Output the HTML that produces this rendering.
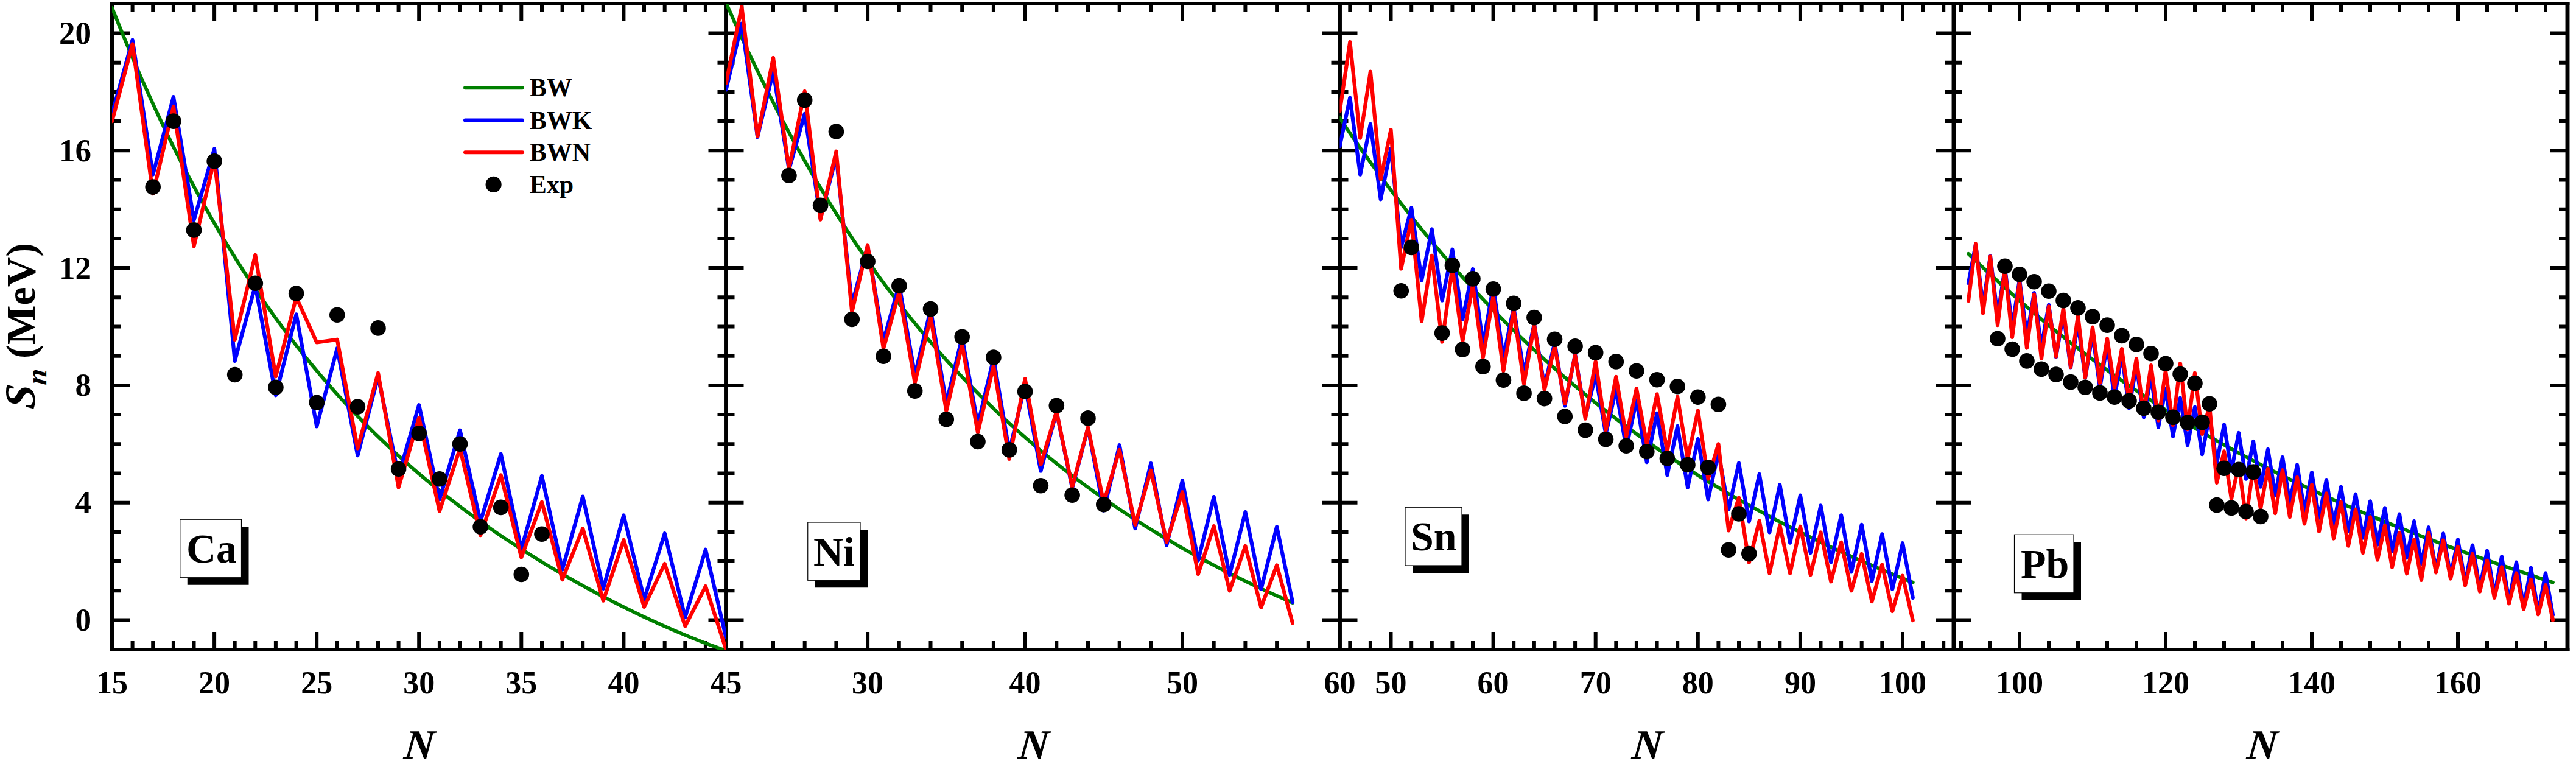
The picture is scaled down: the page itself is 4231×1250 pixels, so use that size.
<!DOCTYPE html><html><head><meta charset="utf-8"><title>Sn plot</title><style>html,body{margin:0;padding:0;background:#fff;width:4231px;height:1250px;overflow:hidden}svg{display:block}</style></head><body><svg width="4231" height="1250" viewBox="0 0 4231 1250">
<rect width="100%" height="100%" fill="#fff"/>
<defs>
<clipPath id="c0"><rect x="184.00" y="6.10" width="1008.50" height="1061.00"/></clipPath>
<clipPath id="c1"><rect x="1192.50" y="6.10" width="1008.00" height="1061.00"/></clipPath>
<clipPath id="c2"><rect x="2200.50" y="6.10" width="1008.50" height="1061.00"/></clipPath>
<clipPath id="c3"><rect x="3209.00" y="6.10" width="1008.00" height="1061.00"/></clipPath>
</defs>
<g stroke="#000" stroke-width="6" fill="none" stroke-linecap="butt">
<path d="M217.6 6.1v14M217.6 1067.1v-14M251.2 6.1v14M251.2 1067.1v-14M284.9 6.1v14M284.9 1067.1v-14M318.5 6.1v14M318.5 1067.1v-14M352.1 6.1v29M352.1 1067.1v-29M385.7 6.1v14M385.7 1067.1v-14M419.3 6.1v14M419.3 1067.1v-14M452.9 6.1v14M452.9 1067.1v-14M486.6 6.1v14M486.6 1067.1v-14M520.2 6.1v29M520.2 1067.1v-29M553.8 6.1v14M553.8 1067.1v-14M587.4 6.1v14M587.4 1067.1v-14M621.0 6.1v14M621.0 1067.1v-14M654.6 6.1v14M654.6 1067.1v-14M688.2 6.1v29M688.2 1067.1v-29M721.9 6.1v14M721.9 1067.1v-14M755.5 6.1v14M755.5 1067.1v-14M789.1 6.1v14M789.1 1067.1v-14M822.7 6.1v14M822.7 1067.1v-14M856.3 6.1v29M856.3 1067.1v-29M890.0 6.1v14M890.0 1067.1v-14M923.6 6.1v14M923.6 1067.1v-14M957.2 6.1v14M957.2 1067.1v-14M990.8 6.1v14M990.8 1067.1v-14M1024.4 6.1v29M1024.4 1067.1v-29M1058.0 6.1v14M1058.0 1067.1v-14M1091.7 6.1v14M1091.7 1067.1v-14M1125.3 6.1v14M1125.3 1067.1v-14M1158.9 6.1v14M1158.9 1067.1v-14M184.0 1018.5h29M1192.5 1018.5h-29M184.0 970.3h14M1192.5 970.3h-14M184.0 922.1h14M1192.5 922.1h-14M184.0 873.9h14M1192.5 873.9h-14M184.0 825.7h29M1192.5 825.7h-29M184.0 777.5h14M1192.5 777.5h-14M184.0 729.3h14M1192.5 729.3h-14M184.0 681.1h14M1192.5 681.1h-14M184.0 632.9h29M1192.5 632.9h-29M184.0 584.7h14M1192.5 584.7h-14M184.0 536.5h14M1192.5 536.5h-14M184.0 488.3h14M1192.5 488.3h-14M184.0 440.1h29M1192.5 440.1h-29M184.0 391.9h14M1192.5 391.9h-14M184.0 343.7h14M1192.5 343.7h-14M184.0 295.5h14M1192.5 295.5h-14M184.0 247.3h29M1192.5 247.3h-29M184.0 199.1h14M1192.5 199.1h-14M184.0 150.9h14M1192.5 150.9h-14M184.0 102.7h14M1192.5 102.7h-14M184.0 54.5h29M1192.5 54.5h-29"/>
<path d="M1218.3 6.1v14M1218.3 1067.1v-14M1270.0 6.1v14M1270.0 1067.1v-14M1321.7 6.1v14M1321.7 1067.1v-14M1373.4 6.1v14M1373.4 1067.1v-14M1425.1 6.1v29M1425.1 1067.1v-29M1476.8 6.1v14M1476.8 1067.1v-14M1528.5 6.1v14M1528.5 1067.1v-14M1580.2 6.1v14M1580.2 1067.1v-14M1631.9 6.1v14M1631.9 1067.1v-14M1683.6 6.1v29M1683.6 1067.1v-29M1735.3 6.1v14M1735.3 1067.1v-14M1787.0 6.1v14M1787.0 1067.1v-14M1838.7 6.1v14M1838.7 1067.1v-14M1890.3 6.1v14M1890.3 1067.1v-14M1942.0 6.1v29M1942.0 1067.1v-29M1993.7 6.1v14M1993.7 1067.1v-14M2045.4 6.1v14M2045.4 1067.1v-14M2097.1 6.1v14M2097.1 1067.1v-14M2148.8 6.1v14M2148.8 1067.1v-14M1192.5 1018.5h29M2200.5 1018.5h-29M1192.5 970.3h14M2200.5 970.3h-14M1192.5 922.1h14M2200.5 922.1h-14M1192.5 873.9h14M2200.5 873.9h-14M1192.5 825.7h29M2200.5 825.7h-29M1192.5 777.5h14M2200.5 777.5h-14M1192.5 729.3h14M2200.5 729.3h-14M1192.5 681.1h14M2200.5 681.1h-14M1192.5 632.9h29M2200.5 632.9h-29M1192.5 584.7h14M2200.5 584.7h-14M1192.5 536.5h14M2200.5 536.5h-14M1192.5 488.3h14M2200.5 488.3h-14M1192.5 440.1h29M2200.5 440.1h-29M1192.5 391.9h14M2200.5 391.9h-14M1192.5 343.7h14M2200.5 343.7h-14M1192.5 295.5h14M2200.5 295.5h-14M1192.5 247.3h29M2200.5 247.3h-29M1192.5 199.1h14M2200.5 199.1h-14M1192.5 150.9h14M2200.5 150.9h-14M1192.5 102.7h14M2200.5 102.7h-14M1192.5 54.5h29M2200.5 54.5h-29"/>
<path d="M2217.3 6.1v14M2217.3 1067.1v-14M2250.9 6.1v14M2250.9 1067.1v-14M2284.5 6.1v29M2284.5 1067.1v-29M2318.2 6.1v14M2318.2 1067.1v-14M2351.8 6.1v14M2351.8 1067.1v-14M2385.4 6.1v14M2385.4 1067.1v-14M2419.0 6.1v14M2419.0 1067.1v-14M2452.6 6.1v29M2452.6 1067.1v-29M2486.2 6.1v14M2486.2 1067.1v-14M2519.9 6.1v14M2519.9 1067.1v-14M2553.5 6.1v14M2553.5 1067.1v-14M2587.1 6.1v14M2587.1 1067.1v-14M2620.7 6.1v29M2620.7 1067.1v-29M2654.3 6.1v14M2654.3 1067.1v-14M2687.9 6.1v14M2687.9 1067.1v-14M2721.6 6.1v14M2721.6 1067.1v-14M2755.2 6.1v14M2755.2 1067.1v-14M2788.8 6.1v29M2788.8 1067.1v-29M2822.4 6.1v14M2822.4 1067.1v-14M2856.0 6.1v14M2856.0 1067.1v-14M2889.6 6.1v14M2889.6 1067.1v-14M2923.3 6.1v14M2923.3 1067.1v-14M2956.9 6.1v29M2956.9 1067.1v-29M2990.5 6.1v14M2990.5 1067.1v-14M3024.1 6.1v14M3024.1 1067.1v-14M3057.7 6.1v14M3057.7 1067.1v-14M3091.3 6.1v14M3091.3 1067.1v-14M3125.0 6.1v29M3125.0 1067.1v-29M3158.6 6.1v14M3158.6 1067.1v-14M3192.2 6.1v14M3192.2 1067.1v-14M2200.5 1018.5h29M3209.0 1018.5h-29M2200.5 970.3h14M3209.0 970.3h-14M2200.5 922.1h14M3209.0 922.1h-14M2200.5 873.9h14M3209.0 873.9h-14M2200.5 825.7h29M3209.0 825.7h-29M2200.5 777.5h14M3209.0 777.5h-14M2200.5 729.3h14M3209.0 729.3h-14M2200.5 681.1h14M3209.0 681.1h-14M2200.5 632.9h29M3209.0 632.9h-29M2200.5 584.7h14M3209.0 584.7h-14M2200.5 536.5h14M3209.0 536.5h-14M2200.5 488.3h14M3209.0 488.3h-14M2200.5 440.1h29M3209.0 440.1h-29M2200.5 391.9h14M3209.0 391.9h-14M2200.5 343.7h14M3209.0 343.7h-14M2200.5 295.5h14M3209.0 295.5h-14M2200.5 247.3h29M3209.0 247.3h-29M2200.5 199.1h14M3209.0 199.1h-14M2200.5 150.9h14M3209.0 150.9h-14M2200.5 102.7h14M3209.0 102.7h-14M2200.5 54.5h29M3209.0 54.5h-29"/>
<path d="M3221.0 6.1v14M3221.0 1067.1v-14M3269.0 6.1v14M3269.0 1067.1v-14M3317.0 6.1v29M3317.0 1067.1v-29M3365.0 6.1v14M3365.0 1067.1v-14M3413.0 6.1v14M3413.0 1067.1v-14M3461.0 6.1v14M3461.0 1067.1v-14M3509.0 6.1v14M3509.0 1067.1v-14M3557.0 6.1v29M3557.0 1067.1v-29M3605.0 6.1v14M3605.0 1067.1v-14M3653.0 6.1v14M3653.0 1067.1v-14M3701.0 6.1v14M3701.0 1067.1v-14M3749.0 6.1v14M3749.0 1067.1v-14M3797.0 6.1v29M3797.0 1067.1v-29M3845.0 6.1v14M3845.0 1067.1v-14M3893.0 6.1v14M3893.0 1067.1v-14M3941.0 6.1v14M3941.0 1067.1v-14M3989.0 6.1v14M3989.0 1067.1v-14M4037.0 6.1v29M4037.0 1067.1v-29M4085.0 6.1v14M4085.0 1067.1v-14M4133.0 6.1v14M4133.0 1067.1v-14M4181.0 6.1v14M4181.0 1067.1v-14M3209.0 1018.5h29M4217.0 1018.5h-29M3209.0 970.3h14M4217.0 970.3h-14M3209.0 922.1h14M4217.0 922.1h-14M3209.0 873.9h14M4217.0 873.9h-14M3209.0 825.7h29M4217.0 825.7h-29M3209.0 777.5h14M4217.0 777.5h-14M3209.0 729.3h14M4217.0 729.3h-14M3209.0 681.1h14M4217.0 681.1h-14M3209.0 632.9h29M4217.0 632.9h-29M3209.0 584.7h14M4217.0 584.7h-14M3209.0 536.5h14M4217.0 536.5h-14M3209.0 488.3h14M4217.0 488.3h-14M3209.0 440.1h29M4217.0 440.1h-29M3209.0 391.9h14M4217.0 391.9h-14M3209.0 343.7h14M4217.0 343.7h-14M3209.0 295.5h14M4217.0 295.5h-14M3209.0 247.3h29M4217.0 247.3h-29M3209.0 199.1h14M4217.0 199.1h-14M3209.0 150.9h14M4217.0 150.9h-14M3209.0 102.7h14M4217.0 102.7h-14M3209.0 54.5h29M4217.0 54.5h-29"/>
</g>
<g stroke="#000" fill="none" stroke-linecap="butt">
<path stroke-width="6" d="M180.55 6.1H4220.45M180.55 1067.1H4220.45"/>
<path stroke-width="6.9" d="M184.0 3.0999999999999996V1070.1M1192.5 3.0999999999999996V1070.1M2200.5 3.0999999999999996V1070.1M3209.0 3.0999999999999996V1070.1M4217.0 3.0999999999999996V1070.1"/>
</g>
<g clip-path="url(#c0)" fill="none" stroke-width="6.2" stroke-linejoin="round" stroke-linecap="round">
<polyline stroke="#008000" stroke-width="5.8" points="184.0,12.7 196.7,44.3 209.4,75.1 222.0,105.0 234.7,134.1 247.4,162.3 260.1,189.7 272.8,216.4 285.4,242.3 298.1,267.4 310.8,291.9 323.5,315.6 336.2,338.7 348.8,361.1 361.5,382.9 374.2,404.0 386.9,424.6 399.6,444.6 412.3,464.0 424.9,482.9 437.6,501.2 450.3,519.1 463.0,536.4 475.7,553.3 488.3,569.7 501.0,585.6 513.7,601.2 526.4,616.3 539.1,631.0 551.7,645.3 564.4,659.2 577.1,672.8 589.8,686.0 602.5,698.9 615.1,711.5 627.8,723.7 640.5,735.7 653.2,747.3 665.9,758.7 678.5,769.8 691.2,780.7 703.9,791.3 716.6,801.6 729.3,811.7 742.0,821.6 754.6,831.3 767.3,840.8 780.0,850.1 792.7,859.2 805.4,868.1 818.0,876.8 830.7,885.3 843.4,893.7 856.1,901.9 868.8,909.9 881.4,917.8 894.1,925.6 906.8,933.2 919.5,940.6 932.2,948.0 944.8,955.1 957.5,962.2 970.2,969.1 982.9,975.9 995.6,982.5 1008.2,989.0 1020.9,995.4 1033.6,1001.7 1046.3,1007.8 1059.0,1013.8 1071.7,1019.7 1084.3,1025.5 1097.0,1031.1 1109.7,1036.6 1122.4,1041.9 1135.1,1047.1 1147.7,1052.1 1160.4,1057.1 1173.1,1061.8 1185.8,1066.4"/>
<polyline stroke="#0000ff" points="184.0,187.0 217.6,65.6 251.2,286.8 284.9,159.1 318.5,361.5 352.1,244.4 385.7,592.9 419.3,469.0 452.9,649.3 486.6,516.3 520.2,700.4 553.8,572.2 587.4,748.1 621.0,618.4 654.6,781.8 688.2,665.2 721.9,820.4 755.5,706.6 789.1,857.0 822.7,745.7 856.3,901.9 890.0,781.8 923.6,935.6 957.2,815.6 990.8,966.9 1024.4,846.4 1058.0,984.3 1091.7,876.3 1125.3,1014.2 1158.9,902.8 1192.5,1047.4"/>
<polyline stroke="#ff0000" points="184.0,199.1 217.6,72.3 251.2,318.2 284.9,175.0 318.5,404.4 352.1,261.8 385.7,557.9 419.3,418.9 452.9,618.4 486.6,488.3 520.2,562.5 553.8,557.7 587.4,736.5 621.0,612.7 654.6,800.6 688.2,686.4 721.9,839.7 755.5,736.5 789.1,879.2 822.7,780.4 856.3,915.4 890.0,824.7 923.6,952.2 957.2,868.1 990.8,986.7 1024.4,886.9 1058.0,996.8 1091.7,926.0 1125.3,1028.6 1158.9,963.1 1192.5,1066.7"/>
</g>
<g fill="#000">
<circle cx="251.2" cy="307.1" r="12.8"/>
<circle cx="284.9" cy="199.1" r="12.8"/>
<circle cx="318.5" cy="377.9" r="12.8"/>
<circle cx="352.1" cy="264.7" r="12.8"/>
<circle cx="385.7" cy="615.5" r="12.8"/>
<circle cx="419.3" cy="465.2" r="12.8"/>
<circle cx="452.9" cy="636.3" r="12.8"/>
<circle cx="486.6" cy="482.0" r="12.8"/>
<circle cx="520.2" cy="661.3" r="12.8"/>
<circle cx="553.8" cy="517.2" r="12.8"/>
<circle cx="587.4" cy="668.1" r="12.8"/>
<circle cx="621.0" cy="538.9" r="12.8"/>
<circle cx="654.6" cy="770.3" r="12.8"/>
<circle cx="688.2" cy="711.9" r="12.8"/>
<circle cx="721.9" cy="786.7" r="12.8"/>
<circle cx="755.5" cy="729.3" r="12.8"/>
<circle cx="789.1" cy="865.2" r="12.8"/>
<circle cx="822.7" cy="833.4" r="12.8"/>
<circle cx="856.3" cy="943.5" r="12.8"/>
<circle cx="890.0" cy="877.3" r="12.8"/>
</g>
<g clip-path="url(#c1)" fill="none" stroke-width="6.2" stroke-linejoin="round" stroke-linecap="round">
<polyline stroke="#008000" stroke-width="5.8" points="1192.5,4.6 1204.3,31.1 1216.1,57.1 1227.8,82.4 1239.6,107.1 1251.4,131.3 1263.2,154.9 1274.9,177.9 1286.7,200.4 1298.5,222.4 1310.3,243.9 1322.1,264.8 1333.8,285.3 1345.6,305.3 1357.4,324.8 1369.2,343.9 1380.9,362.5 1392.7,380.7 1404.5,398.4 1416.3,415.7 1428.1,432.7 1439.8,449.2 1451.6,465.4 1463.4,481.1 1475.2,496.5 1486.9,511.6 1498.7,526.3 1510.5,540.7 1522.3,554.7 1534.1,568.4 1545.8,581.9 1557.6,595.0 1569.4,607.8 1581.2,620.3 1593.0,632.6 1604.7,644.5 1616.5,656.3 1628.3,667.7 1640.1,678.9 1651.8,689.9 1663.6,700.6 1675.4,711.1 1687.2,721.4 1699.0,731.5 1710.7,741.4 1722.5,751.0 1734.3,760.5 1746.1,769.8 1757.8,778.8 1769.6,787.7 1781.4,796.5 1793.2,805.0 1805.0,813.4 1816.7,821.7 1828.5,829.7 1840.3,837.6 1852.1,845.4 1863.8,853.0 1875.6,860.5 1887.4,867.9 1899.2,875.1 1911.0,882.2 1922.7,889.1 1934.5,896.0 1946.3,902.7 1958.1,909.3 1969.8,915.7 1981.6,922.1 1993.4,928.3 2005.2,934.5 2017.0,940.5 2028.7,946.4 2040.5,952.2 2052.3,957.9 2064.1,963.5 2075.8,969.0 2087.6,974.4 2099.4,979.7 2111.2,984.9 2123.0,990.0"/>
<polyline stroke="#0000ff" points="1192.5,147.5 1218.3,38.6 1244.2,225.1 1270.0,117.6 1295.9,278.6 1321.7,187.0 1347.6,358.2 1373.4,256.9 1399.3,499.9 1425.1,404.4 1451.0,560.1 1476.8,467.6 1502.7,616.0 1528.5,508.5 1554.3,662.3 1580.2,553.9 1606.0,698.0 1631.9,588.6 1657.7,741.3 1683.6,632.9 1709.4,773.6 1735.3,676.3 1761.1,801.6 1787.0,702.8 1812.8,838.7 1838.7,731.2 1864.5,868.1 1890.3,761.1 1916.2,895.6 1942.0,789.5 1967.9,920.7 1993.7,816.1 2019.6,944.3 2045.4,841.1 2071.3,967.9 2097.1,865.2 2123.0,989.1"/>
<polyline stroke="#ff0000" points="1192.5,136.4 1218.3,11.1 1244.2,224.2 1270.0,95.0 1295.9,276.7 1321.7,149.9 1347.6,360.6 1373.4,248.7 1399.3,512.4 1425.1,402.5 1451.0,572.6 1476.8,480.1 1502.7,628.6 1528.5,521.1 1554.3,674.8 1580.2,566.4 1606.0,710.5 1631.9,601.1 1657.7,753.9 1683.6,622.3 1709.4,763.0 1735.3,675.8 1761.1,799.7 1787.0,701.8 1812.8,825.7 1838.7,738.9 1864.5,861.9 1890.3,772.7 1916.2,890.3 1942.0,808.3 1967.9,943.0 1993.7,864.3 2019.6,970.3 2045.4,897.0 2071.3,997.8 2097.1,928.4 2123.0,1023.3"/>
</g>
<g fill="#000">
<circle cx="1295.9" cy="288.3" r="12.8"/>
<circle cx="1321.7" cy="164.4" r="12.8"/>
<circle cx="1347.6" cy="337.4" r="12.8"/>
<circle cx="1373.4" cy="216.0" r="12.8"/>
<circle cx="1399.3" cy="524.5" r="12.8"/>
<circle cx="1425.1" cy="429.5" r="12.8"/>
<circle cx="1451.0" cy="585.2" r="12.8"/>
<circle cx="1476.8" cy="469.5" r="12.8"/>
<circle cx="1502.7" cy="642.1" r="12.8"/>
<circle cx="1528.5" cy="507.6" r="12.8"/>
<circle cx="1554.3" cy="688.8" r="12.8"/>
<circle cx="1580.2" cy="553.4" r="12.8"/>
<circle cx="1606.0" cy="725.4" r="12.8"/>
<circle cx="1631.9" cy="587.1" r="12.8"/>
<circle cx="1657.7" cy="738.9" r="12.8"/>
<circle cx="1683.6" cy="643.0" r="12.8"/>
<circle cx="1709.4" cy="797.7" r="12.8"/>
<circle cx="1735.3" cy="666.2" r="12.8"/>
<circle cx="1761.1" cy="813.2" r="12.8"/>
<circle cx="1787.0" cy="686.9" r="12.8"/>
<circle cx="1812.8" cy="828.6" r="12.8"/>
</g>
<g clip-path="url(#c2)" fill="none" stroke-width="6.2" stroke-linejoin="round" stroke-linecap="round">
<polyline stroke="#008000" stroke-width="5.8" points="2200.5,193.8 2212.4,211.5 2224.3,228.9 2236.2,246.0 2248.2,262.8 2260.1,279.4 2272.0,295.6 2283.9,311.5 2295.8,327.2 2307.7,342.6 2319.6,357.7 2331.6,372.5 2343.5,387.1 2355.4,401.4 2367.3,415.5 2379.2,429.3 2391.1,442.8 2403.1,456.2 2415.0,469.3 2426.9,482.1 2438.8,494.7 2450.7,507.1 2462.6,519.3 2474.5,531.3 2486.5,543.0 2498.4,554.5 2510.3,565.9 2522.2,577.0 2534.1,587.9 2546.0,598.7 2557.9,609.2 2569.9,619.6 2581.8,629.7 2593.7,639.7 2605.6,649.5 2617.5,659.2 2629.4,668.6 2641.3,677.9 2653.3,687.1 2665.2,696.1 2677.1,704.9 2689.0,713.6 2700.9,722.1 2712.8,730.4 2724.7,738.7 2736.7,746.8 2748.6,754.7 2760.5,762.5 2772.4,770.2 2784.3,777.7 2796.2,785.2 2808.2,792.5 2820.1,799.6 2832.0,806.7 2843.9,813.7 2855.8,820.5 2867.7,827.2 2879.6,833.8 2891.6,840.3 2903.5,846.7 2915.4,853.1 2927.3,859.3 2939.2,865.4 2951.1,871.4 2963.0,877.3 2975.0,883.2 2986.9,888.9 2998.8,894.6 3010.7,900.2 3022.6,905.7 3034.5,911.1 3046.4,916.5 3058.4,921.8 3070.3,927.0 3082.2,932.1 3094.1,937.2 3106.0,942.2 3117.9,947.1 3129.9,952.0 3141.8,956.8"/>
<polyline stroke="#0000ff" points="2200.5,240.1 2217.3,160.5 2234.1,286.8 2250.9,203.9 2267.7,327.3 2284.5,243.9 2301.3,406.4 2318.2,341.3 2335.0,460.3 2351.8,376.5 2368.6,493.6 2385.4,409.7 2402.2,524.9 2419.0,442.0 2435.8,565.4 2452.6,470.9 2469.4,587.1 2486.2,504.7 2503.1,613.6 2519.9,531.7 2536.7,635.3 2553.5,563.0 2570.3,666.6 2587.1,582.3 2603.9,685.0 2620.7,616.0 2637.5,712.9 2654.3,639.6 2671.1,736.0 2687.9,657.5 2704.8,759.2 2721.6,678.7 2738.4,780.4 2755.2,699.9 2772.0,800.6 2788.8,721.1 2805.6,820.4 2822.4,742.8 2839.2,836.8 2856.0,760.6 2872.8,856.5 2889.6,778.9 2906.4,874.4 2923.3,796.3 2940.1,891.7 2956.9,813.6 2973.7,908.1 2990.5,830.5 3007.3,923.5 3024.1,846.4 3040.9,939.5 3057.7,861.9 3074.5,954.4 3091.3,877.3 3108.2,967.9 3125.0,892.2 3141.8,981.9"/>
<polyline stroke="#ff0000" points="2200.5,182.7 2217.3,69.0 2234.1,226.6 2250.9,117.6 2267.7,294.1 2284.5,213.1 2301.3,441.5 2318.2,361.1 2335.0,527.8 2351.8,419.9 2368.6,561.6 2385.4,440.1 2402.2,560.6 2419.0,468.5 2435.8,587.1 2452.6,486.4 2469.4,609.3 2486.2,509.5 2503.1,630.5 2519.9,533.6 2536.7,640.6 2553.5,568.8 2570.3,662.8 2587.1,583.7 2603.9,687.8 2620.7,593.9 2637.5,706.6 2654.3,618.9 2671.1,716.8 2687.9,638.2 2704.8,729.3 2721.6,647.4 2738.4,741.3 2755.2,651.7 2772.0,753.4 2788.8,674.4 2805.6,786.7 2822.4,729.3 2839.2,871.5 2856.0,817.5 2872.8,924.0 2889.6,855.6 2906.4,941.9 2923.3,862.8 2940.1,941.9 2956.9,864.7 2973.7,944.3 2990.5,874.4 3007.3,955.4 3024.1,890.8 3040.9,970.3 3057.7,910.0 3074.5,988.1 3091.3,927.4 3108.2,1004.0 3125.0,945.7 3141.8,1019.0"/>
</g>
<g fill="#000">
<circle cx="2301.3" cy="477.7" r="12.8"/>
<circle cx="2318.2" cy="406.4" r="12.8"/>
<circle cx="2368.6" cy="547.1" r="12.8"/>
<circle cx="2385.4" cy="435.8" r="12.8"/>
<circle cx="2402.2" cy="574.1" r="12.8"/>
<circle cx="2419.0" cy="457.9" r="12.8"/>
<circle cx="2435.8" cy="602.1" r="12.8"/>
<circle cx="2452.6" cy="474.8" r="12.8"/>
<circle cx="2469.4" cy="624.2" r="12.8"/>
<circle cx="2486.2" cy="498.4" r="12.8"/>
<circle cx="2503.1" cy="645.9" r="12.8"/>
<circle cx="2519.9" cy="521.6" r="12.8"/>
<circle cx="2536.7" cy="654.6" r="12.8"/>
<circle cx="2553.5" cy="557.2" r="12.8"/>
<circle cx="2570.3" cy="684.0" r="12.8"/>
<circle cx="2587.1" cy="568.8" r="12.8"/>
<circle cx="2603.9" cy="706.6" r="12.8"/>
<circle cx="2620.7" cy="579.4" r="12.8"/>
<circle cx="2637.5" cy="721.6" r="12.8"/>
<circle cx="2654.3" cy="593.9" r="12.8"/>
<circle cx="2671.1" cy="732.2" r="12.8"/>
<circle cx="2687.9" cy="609.3" r="12.8"/>
<circle cx="2704.8" cy="741.8" r="12.8"/>
<circle cx="2721.6" cy="623.7" r="12.8"/>
<circle cx="2738.4" cy="752.9" r="12.8"/>
<circle cx="2755.2" cy="634.8" r="12.8"/>
<circle cx="2772.0" cy="763.5" r="12.8"/>
<circle cx="2788.8" cy="652.2" r="12.8"/>
<circle cx="2805.6" cy="767.9" r="12.8"/>
<circle cx="2822.4" cy="664.2" r="12.8"/>
<circle cx="2839.2" cy="903.3" r="12.8"/>
<circle cx="2856.0" cy="844.0" r="12.8"/>
<circle cx="2872.8" cy="909.6" r="12.8"/>
</g>
<g clip-path="url(#c3)" fill="none" stroke-width="6.2" stroke-linejoin="round" stroke-linecap="round">
<polyline stroke="#008000" stroke-width="5.8" points="3233.0,416.8 3245.2,428.4 3257.3,439.9 3269.5,451.2 3281.6,462.3 3293.8,473.3 3305.9,484.1 3318.1,494.7 3330.2,505.2 3342.4,515.5 3354.5,525.7 3366.7,535.7 3378.8,545.5 3391.0,555.2 3403.1,564.7 3415.3,574.1 3427.4,583.3 3439.6,592.4 3451.7,601.4 3463.9,610.2 3476.0,618.9 3488.2,627.4 3500.3,635.8 3512.5,644.1 3524.6,652.2 3536.8,660.2 3548.9,668.1 3561.1,675.9 3573.3,683.5 3585.4,691.0 3597.6,698.4 3609.7,705.7 3621.9,712.9 3634.0,719.9 3646.2,726.8 3658.3,733.7 3670.5,740.4 3682.6,747.0 3694.8,753.5 3706.9,760.0 3719.1,766.3 3731.2,772.5 3743.4,778.6 3755.5,784.6 3767.7,790.6 3779.8,796.4 3792.0,802.2 3804.1,807.9 3816.3,813.5 3828.4,819.0 3840.6,824.4 3852.7,829.8 3864.9,835.1 3877.1,840.3 3889.2,845.4 3901.4,850.5 3913.5,855.5 3925.7,860.5 3937.8,865.3 3950.0,870.1 3962.1,874.9 3974.3,879.6 3986.4,884.2 3998.6,888.8 4010.7,893.4 4022.9,897.9 4035.0,902.3 4047.2,906.7 4059.3,911.1 4071.5,915.4 4083.6,919.7 4095.8,923.9 4107.9,928.1 4120.1,932.3 4132.2,936.4 4144.4,940.5 4156.5,944.6 4168.7,948.7 4180.8,952.7 4193.0,956.7"/>
<polyline stroke="#0000ff" points="3233.0,465.2 3245.0,401.5 3257.0,502.8 3269.0,420.8 3281.0,519.6 3293.0,440.1 3305.0,536.5 3317.0,459.4 3329.0,552.9 3341.0,481.1 3353.0,569.8 3365.0,500.8 3377.0,586.6 3389.0,514.8 3401.0,603.5 3413.0,531.7 3425.0,620.4 3437.0,548.5 3449.0,636.8 3461.0,565.4 3473.0,653.6 3485.0,582.3 3497.0,670.5 3509.0,599.2 3521.0,685.4 3533.0,618.4 3545.0,701.8 3557.0,638.7 3569.0,716.8 3581.0,653.6 3593.0,731.2 3605.0,668.6 3617.0,746.2 3629.0,683.0 3641.0,760.6 3653.0,697.5 3665.0,773.6 3677.0,711.0 3689.0,786.7 3701.0,725.0 3713.0,799.7 3725.0,738.0 3737.0,813.2 3749.0,751.0 3761.0,826.7 3773.0,763.5 3785.0,839.7 3797.0,776.1 3809.0,850.8 3821.0,788.1 3833.0,861.9 3845.0,799.7 3857.0,872.9 3869.0,811.7 3881.0,883.5 3893.0,823.3 3905.0,894.6 3917.0,834.4 3929.0,905.7 3941.0,844.5 3953.0,916.3 3965.0,856.1 3977.0,926.0 3989.0,866.2 4001.0,936.6 4013.0,876.3 4025.0,946.7 4037.0,886.4 4049.0,957.3 4061.0,895.6 4073.0,966.9 4085.0,904.7 4097.0,977.5 4109.0,914.4 4121.0,987.2 4133.0,923.5 4145.0,996.8 4157.0,932.7 4169.0,1006.5 4181.0,941.4 4193.0,1010.3"/>
<polyline stroke="#ff0000" points="3233.0,494.1 3245.0,400.6 3257.0,514.3 3269.0,421.3 3281.0,534.1 3293.0,442.0 3305.0,553.9 3317.0,462.8 3329.0,571.7 3341.0,483.5 3353.0,589.0 3365.0,503.2 3377.0,585.7 3389.0,506.1 3401.0,603.0 3413.0,518.7 3425.0,620.4 3437.0,537.5 3449.0,629.0 3461.0,556.3 3473.0,636.8 3485.0,573.1 3497.0,659.4 3509.0,589.0 3521.0,681.1 3533.0,600.1 3545.0,690.7 3557.0,608.8 3569.0,698.0 3581.0,597.2 3593.0,705.2 3605.0,612.7 3617.0,712.9 3629.0,666.6 3641.0,792.9 3653.0,741.3 3665.0,819.4 3677.0,763.0 3689.0,851.7 3701.0,767.9 3713.0,835.3 3725.0,769.8 3737.0,843.1 3749.0,772.2 3761.0,849.3 3773.0,783.8 3785.0,860.4 3797.0,796.3 3809.0,872.9 3821.0,810.3 3833.0,884.5 3845.0,824.7 3857.0,896.6 3869.0,836.8 3881.0,908.1 3893.0,849.3 3905.0,919.7 3917.0,863.3 3929.0,931.7 3941.0,874.9 3953.0,942.3 3965.0,886.4 3977.0,952.9 3989.0,874.9 4001.0,940.4 4013.0,887.4 4025.0,950.5 4037.0,898.0 4049.0,961.6 4061.0,910.0 4073.0,971.7 4085.0,920.7 4097.0,981.9 4109.0,931.3 4121.0,991.3 4133.0,941.4 4145.0,1000.7 4157.0,952.0 4169.0,1009.3 4181.0,961.1 4193.0,1018.5"/>
</g>
<g fill="#000">
<circle cx="3281.0" cy="556.3" r="12.8"/>
<circle cx="3293.0" cy="437.2" r="12.8"/>
<circle cx="3305.0" cy="573.6" r="12.8"/>
<circle cx="3317.0" cy="450.7" r="12.8"/>
<circle cx="3329.0" cy="592.9" r="12.8"/>
<circle cx="3341.0" cy="462.8" r="12.8"/>
<circle cx="3353.0" cy="606.4" r="12.8"/>
<circle cx="3365.0" cy="478.2" r="12.8"/>
<circle cx="3377.0" cy="615.1" r="12.8"/>
<circle cx="3389.0" cy="493.6" r="12.8"/>
<circle cx="3401.0" cy="627.6" r="12.8"/>
<circle cx="3413.0" cy="505.7" r="12.8"/>
<circle cx="3425.0" cy="636.3" r="12.8"/>
<circle cx="3437.0" cy="520.1" r="12.8"/>
<circle cx="3449.0" cy="645.4" r="12.8"/>
<circle cx="3461.0" cy="534.1" r="12.8"/>
<circle cx="3473.0" cy="652.2" r="12.8"/>
<circle cx="3485.0" cy="551.4" r="12.8"/>
<circle cx="3497.0" cy="658.4" r="12.8"/>
<circle cx="3509.0" cy="565.9" r="12.8"/>
<circle cx="3521.0" cy="670.5" r="12.8"/>
<circle cx="3533.0" cy="580.8" r="12.8"/>
<circle cx="3545.0" cy="677.2" r="12.8"/>
<circle cx="3557.0" cy="597.2" r="12.8"/>
<circle cx="3569.0" cy="685.4" r="12.8"/>
<circle cx="3581.0" cy="614.6" r="12.8"/>
<circle cx="3593.0" cy="694.1" r="12.8"/>
<circle cx="3605.0" cy="629.5" r="12.8"/>
<circle cx="3617.0" cy="693.6" r="12.8"/>
<circle cx="3629.0" cy="663.3" r="12.8"/>
<circle cx="3641.0" cy="829.6" r="12.8"/>
<circle cx="3653.0" cy="769.3" r="12.8"/>
<circle cx="3665.0" cy="834.4" r="12.8"/>
<circle cx="3677.0" cy="771.2" r="12.8"/>
<circle cx="3689.0" cy="840.2" r="12.8"/>
<circle cx="3701.0" cy="775.1" r="12.8"/>
<circle cx="3713.0" cy="848.4" r="12.8"/>
</g>
<g font-family="Liberation Serif, Times New Roman, serif" font-weight="bold" font-size="52" text-anchor="middle" fill="#000">
<text x="184.0" y="1139">15</text>
<text x="352.1" y="1139">20</text>
<text x="520.2" y="1139">25</text>
<text x="688.2" y="1139">30</text>
<text x="856.3" y="1139">35</text>
<text x="1024.4" y="1139">40</text>
<text x="1192.5" y="1139">45</text>
<text x="1425.1" y="1139">30</text>
<text x="1683.6" y="1139">40</text>
<text x="1942.0" y="1139">50</text>
<text x="2200.5" y="1139">60</text>
<text x="2284.5" y="1139">50</text>
<text x="2452.6" y="1139">60</text>
<text x="2620.7" y="1139">70</text>
<text x="2788.8" y="1139">80</text>
<text x="2956.9" y="1139">90</text>
<text x="3125.0" y="1139">100</text>
<text x="3317.0" y="1139">100</text>
<text x="3557.0" y="1139">120</text>
<text x="3797.0" y="1139">140</text>
<text x="4037.0" y="1139">160</text>
</g>
<g font-family="Liberation Serif, Times New Roman, serif" font-weight="bold" font-size="53" text-anchor="end" fill="#000">
<text x="150" y="1036.0">0</text>
<text x="150" y="843.2">4</text>
<text x="150" y="650.4">8</text>
<text x="150" y="457.6">12</text>
<text x="150" y="264.8">16</text>
<text x="150" y="72.0">20</text>
</g>
<text font-family="Liberation Serif, Times New Roman, serif" font-weight="bold" font-size="68.5" font-style="italic" text-anchor="middle" fill="#000" transform="translate(687,1246) skewX(-5.5)">N</text>
<text font-family="Liberation Serif, Times New Roman, serif" font-weight="bold" font-size="68.5" font-style="italic" text-anchor="middle" fill="#000" transform="translate(1696,1246) skewX(-5.5)">N</text>
<text font-family="Liberation Serif, Times New Roman, serif" font-weight="bold" font-size="68.5" font-style="italic" text-anchor="middle" fill="#000" transform="translate(2704,1246) skewX(-5.5)">N</text>
<text font-family="Liberation Serif, Times New Roman, serif" font-weight="bold" font-size="68.5" font-style="italic" text-anchor="middle" fill="#000" transform="translate(3714,1246) skewX(-5.5)">N</text>
<g font-family="Liberation Serif, Times New Roman, serif" font-weight="bold" fill="#000" transform="translate(56.5,0) rotate(-90)">
<text font-size="71" font-style="italic" transform="translate(-673,0) skewX(-5.5)">S</text>
<text font-size="46" font-style="italic" transform="translate(-633,19) skewX(-5.5)">n</text>
<text font-size="68.5" x="-589" y="0" textLength="190" lengthAdjust="spacingAndGlyphs">(MeV)</text>
</g>
<g fill="none" stroke-width="6" stroke-linecap="round">
<path stroke="#008000" d="M764 144.2H858"/><path stroke="#0000ff" d="M764 197.4H858"/><path stroke="#ff0000" d="M764 250.3H858"/></g>
<circle cx="810.6" cy="302.9" r="13.1" fill="#000"/>
<g font-family="Liberation Serif, Times New Roman, serif" font-weight="bold" font-size="42" fill="#000">
<text x="869.8" y="158.3">BW</text>
<text x="869.8" y="211.5">BWK</text>
<text x="869.8" y="264.1">BWN</text>
<text x="869.8" y="316.7">Exp</text>
</g>
<rect x="307.75" y="865.25" width="100.75" height="95.5" fill="#000"/>
<rect x="295.75" y="853.25" width="100.75" height="95.5" fill="#fff" stroke="#000" stroke-width="1.2"/>
<text font-family="Liberation Serif, Times New Roman, serif" font-weight="bold" font-size="68" fill="#000" x="306" y="923.75">Ca</text>
<rect x="1338.75" y="870" width="86.25" height="95.25" fill="#000"/>
<rect x="1326.75" y="858" width="86.25" height="95.25" fill="#fff" stroke="#000" stroke-width="1.2"/>
<text font-family="Liberation Serif, Times New Roman, serif" font-weight="bold" font-size="68" fill="#000" x="1336" y="929.25">Ni</text>
<rect x="2320" y="845.25" width="93" height="95.75" fill="#000"/>
<rect x="2308" y="833.25" width="93" height="95.75" fill="#fff" stroke="#000" stroke-width="1.2"/>
<text font-family="Liberation Serif, Times New Roman, serif" font-weight="bold" font-size="68" fill="#000" x="2317" y="904.25">Sn</text>
<rect x="3320.5" y="890.25" width="97.5" height="95.5" fill="#000"/>
<rect x="3308.5" y="878.25" width="97.5" height="95.5" fill="#fff" stroke="#000" stroke-width="1.2"/>
<text font-family="Liberation Serif, Times New Roman, serif" font-weight="bold" font-size="68" fill="#000" x="3319" y="949.25">Pb</text>
</svg></body></html>
